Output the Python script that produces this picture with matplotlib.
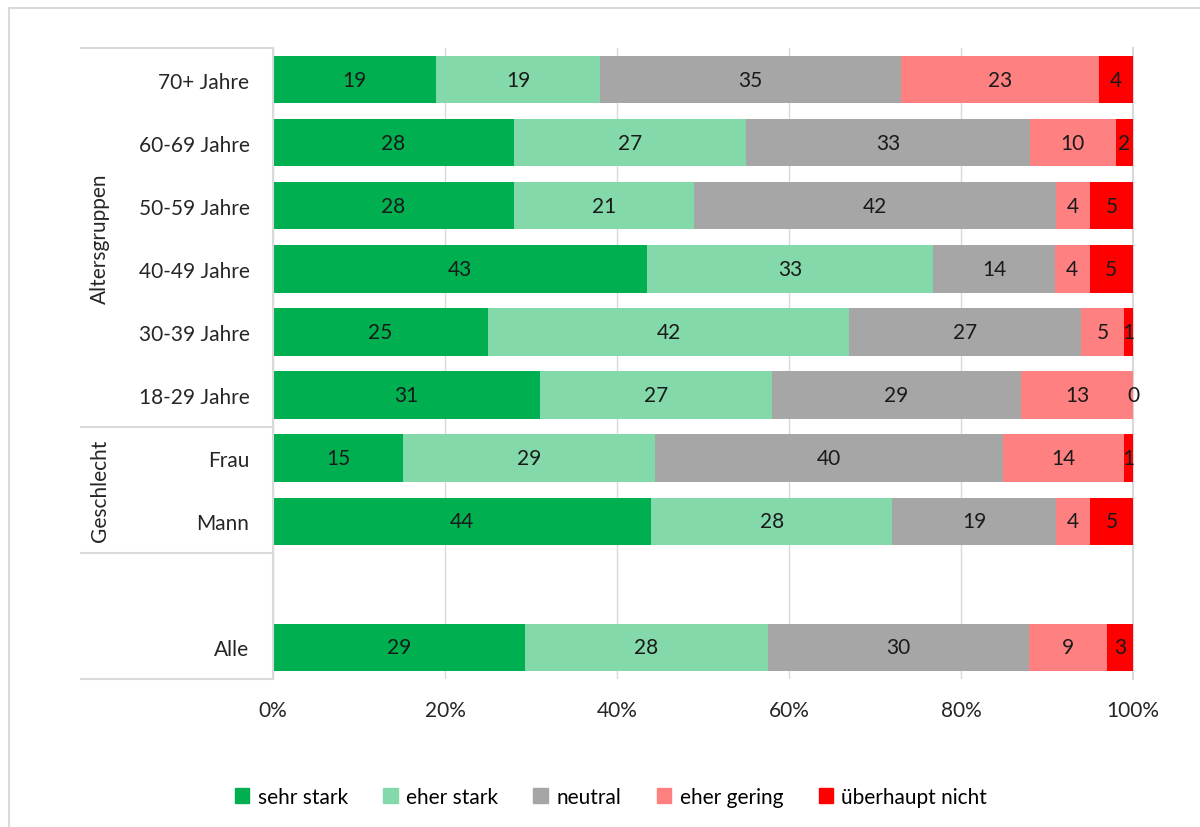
import matplotlib.pyplot as plt
import numpy as np
from matplotlib.patches import Rectangle

plt.rcParams['font.family'] = ['Lato', 'DejaVu Sans']

# rows from top to bottom, "" is the spacer row above "Alle"
kategorien = ["70+ Jahre", "60-69 Jahre", "50-59 Jahre", "40-49 Jahre", "30-39 Jahre",
              "18-29 Jahre", "Frau", "Mann", "", "Alle"]
antworten = ["sehr stark", "eher stark", "neutral", "eher gering", "überhaupt nicht"]
farben = ["#00B050", "#83D9A9", "#A6A6A6", "#FF8080", "#FF0000"]

sehr_stark = [19, 28, 28, 43, 25, 31, 15, 44, None, 29]
eher_stark = [19, 27, 21, 33, 42, 27, 29, 28, None, 28]
neutral = [35, 33, 42, 14, 27, 29, 40, 19, None, 30]
eher_gering = [23, 10, 4, 4, 5, 13, 14, 4, None, 9]
gar_nicht = [4, 2, 5, 5, 1, 0, 1, 5, None, 3]
reihen = [sehr_stark, eher_stark, neutral, eher_gering, gar_nicht]

FS = 15
W, H = 1200, 828
fig = plt.figure(figsize=(12, 8.28), dpi=100)
ax = fig.add_axes([273 / W, 1 - 680 / H, 860 / W, 631 / H])

for i in range(len(kategorien)):
    if sehr_stark[i] is None:
        continue
    werte = [r[i] for r in reihen]
    summe = sum(werte)
    links = 0.0
    for v, col in zip(werte, farben):
        breite = v / summe * 100
        ax.barh(i, breite, left=links, height=0.75, color=col, zorder=2)
        ax.text(links + breite / 2, i, str(v), ha='center', va='center',
                fontsize=FS, color='#1a1a1a', zorder=3)
        links += breite

ax.set_xlim(0, 100)
ax.set_ylim(len(kategorien) - 0.5, -0.5)
ax.set_xticks(np.arange(0, 101, 20))
ax.set_xticklabels([f"{t}%" for t in range(0, 101, 20)], fontsize=FS, color='#262626')
ax.set_yticks(range(len(kategorien)))
ax.set_yticklabels(kategorien, fontsize=FS, color='#262626')
ax.tick_params(axis='both', length=0)
ax.tick_params(axis='y', pad=17)
ax.tick_params(axis='x', pad=15)
ax.grid(axis='x', color='#D9D9D9', lw=1, zorder=0)
for s in ['top', 'right', 'bottom']:
    ax.spines[s].set_visible(False)
ax.spines['left'].set_color('#D9D9D9')
ax.spines['left'].set_linewidth(1.5)
ax.axvline(100, color='#D9D9D9', lw=1.5, zorder=1, clip_on=False)

# group separators and group titles left of the tick labels
trans = ax.get_yaxis_transform()
x0 = (81 - 273) / 860
for y in [-0.5, 5.5, 7.5, 9.5]:
    ax.plot([x0, 0], [y, y], transform=trans, color='#D9D9D9', lw=1.5, clip_on=False)
xg = (100 - 273) / 860
ax.text(xg, 2.5, "Altersgruppen", transform=trans, rotation=90, ha='center', va='center',
        fontsize=FS, color='#262626')
ax.text(xg, 6.5, "Geschlecht", transform=trans, rotation=90, ha='center', va='center',
        fontsize=FS, color='#262626')

handles = [Rectangle((0, 0), 1, 1, color=c) for c in farben]
fig.legend(handles, antworten, loc='center', bbox_to_anchor=(611 / W, 1 - 798 / H),
           ncol=5, frameon=False, fontsize=FS, handlelength=0.7, handleheight=0.7,
           handletextpad=0.4, columnspacing=1.7)

fig.patches.append(Rectangle((9 / W, -0.1), 1.2, 1.1 - 9 / H, transform=fig.transFigure,
                             fill=False, edgecolor='#D9D9D9', lw=1.5))

fig.savefig("out.png", dpi=100)
